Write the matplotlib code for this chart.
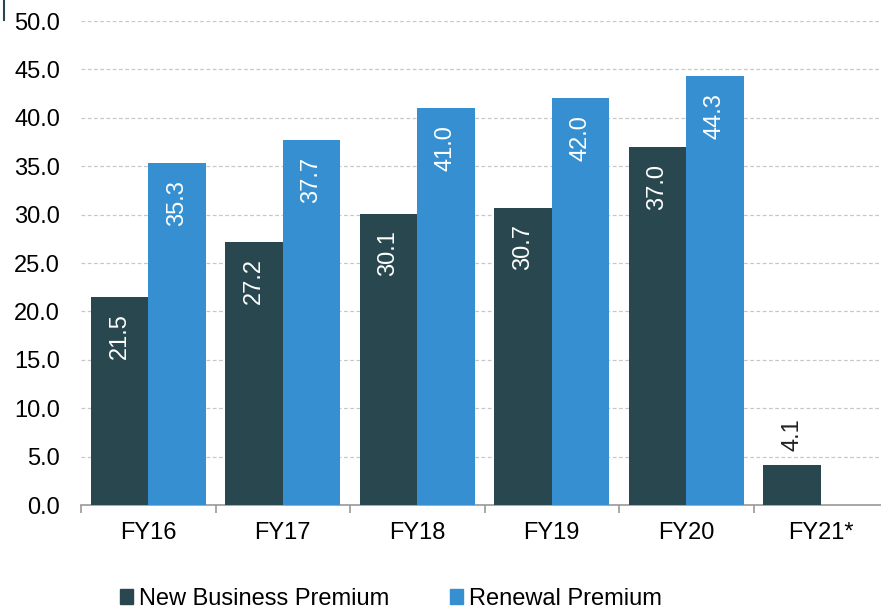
import matplotlib
matplotlib.use("Agg")
import matplotlib.pyplot as plt
from matplotlib.patches import Patch
from matplotlib.lines import Line2D
import numpy as np

years = ["FY16", "FY17", "FY18", "FY19", "FY20", "FY21*"]
new_business = [21.5, 27.2, 30.1, 30.7, 37.0, 4.1]
renewal = [35.3, 37.7, 41.0, 42.0, 44.3, None]

dark = "#29474F"
blue = "#358FD0"

plt.rcParams["font.family"] = ["Liberation Sans", "DejaVu Sans"]

fig = plt.figure(figsize=(8.81, 6.09), dpi=100)
ax = fig.add_axes([81 / 881, 1 - 505 / 609, 1 - 81 / 881, (505 - 21) / 609])

x = np.arange(len(years))
w = 0.4275
lab_fs = 17

for i, v in enumerate(new_business):
    ax.bar(x[i] - w / 2, v, w, color=dark, zorder=3)
    if v > 10:
        ax.annotate(f"{v:.1f}", (x[i] - w / 2, v), xytext=(0, -12), textcoords="offset points",
                    rotation=90, ha="center", va="top", color="white", fontsize=lab_fs)
    else:
        ax.annotate(f"{v:.1f}", (x[i] - w / 2, v), xytext=(0, 10), textcoords="offset points",
                    rotation=90, ha="center", va="bottom", color="#222222", fontsize=lab_fs)

for i, v in enumerate(renewal):
    if v is None:
        continue
    ax.bar(x[i] + w / 2, v, w, color=blue, zorder=3)
    ax.annotate(f"{v:.1f}", (x[i] + w / 2, v), xytext=(0, -12), textcoords="offset points",
                rotation=90, ha="center", va="top", color="white", fontsize=lab_fs)

ax.set_yticks(np.arange(0, 50.1, 5))
ax.set_yticklabels([f"{t:.1f}" for t in np.arange(0, 50.1, 5)], fontsize=17)
ax.yaxis.grid(True, linestyle=(0, (3, 2)), color="#c8c8c8", linewidth=0.9, zorder=0)
ax.tick_params(axis="y", length=0, pad=15)

ax.set_xticks(np.arange(-0.5, len(years), 1))
ax.set_xticklabels([])
ax.set_xticks(x, minor=True)
ax.set_xticklabels(years, minor=True, fontsize=17)
ax.tick_params(axis="x", which="major", length=6, color="#999999", width=1.2)
ax.tick_params(axis="x", which="minor", length=0, pad=12)

ax.set_ylim(0, 50)
ax.set_xlim(-0.5, -0.5 + 800 / 134.5)

for s in ["top", "right", "left"]:
    ax.spines[s].set_visible(False)
ax.spines["bottom"].set_color("#999999")
ax.spines["bottom"].set_linewidth(1.2)

handles = [Patch(color=dark, label="New Business Premium"),
           Patch(color=blue, label="Renewal Premium")]
fig.legend(handles=handles, loc="center", bbox_to_anchor=(391 / 881, 1 - 599 / 609), ncol=2,
           frameon=False, fontsize=17, handlelength=0.55, handleheight=0.6,
           handletextpad=0.25, columnspacing=2.6, borderpad=0)

fig.add_artist(Line2D([4 / 881, 4 / 881], [1, 1 - 20 / 609], color="#29474F", linewidth=1.5))

fig.savefig("out.png", dpi=100)
